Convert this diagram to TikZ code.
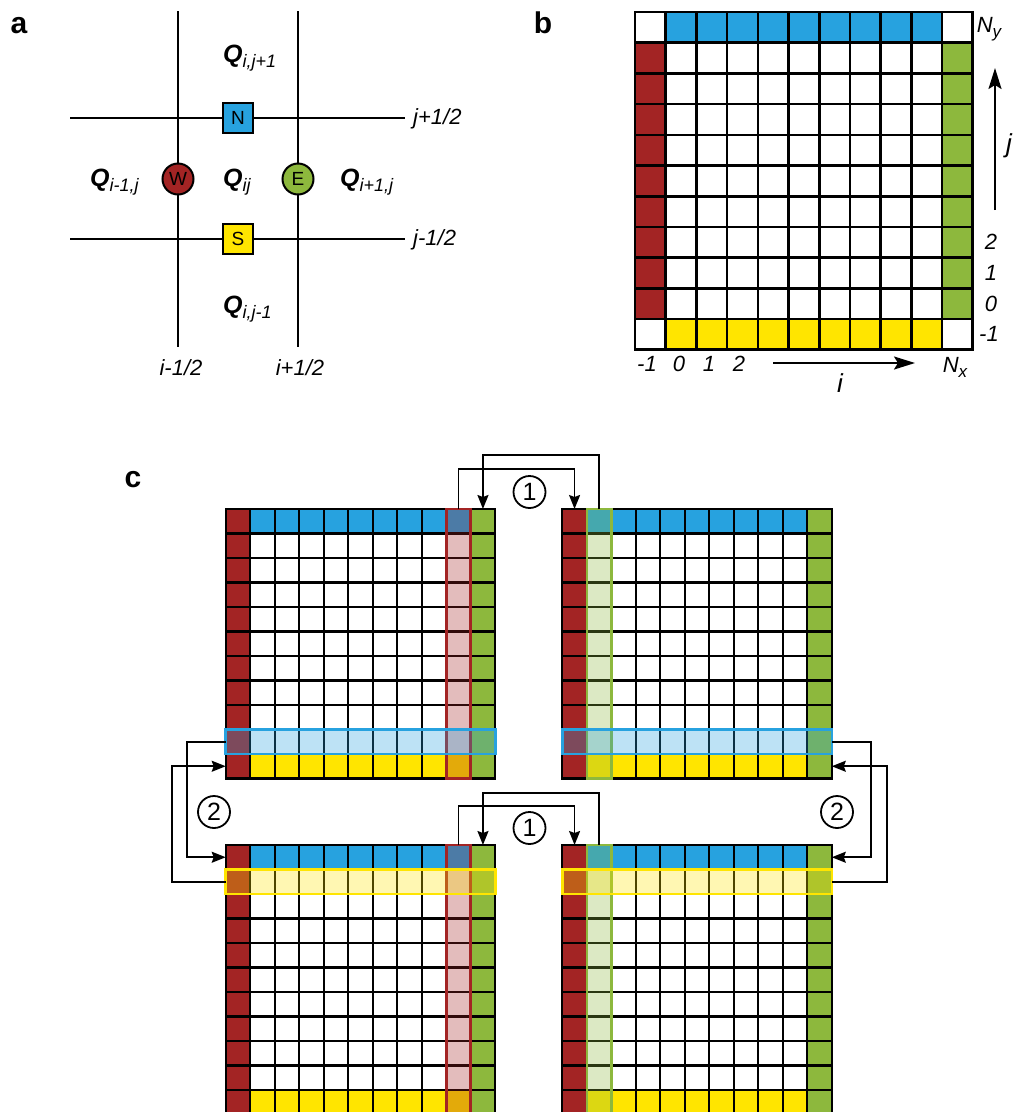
\documentclass[tikz,border=0pt]{standalone}
\usepackage{fontspec}
\setmainfont{Liberation Sans}
\usetikzlibrary{arrows.meta}
\definecolor{cred}{RGB}{163,36,36}
\definecolor{cblue}{RGB}{39,162,223}
\definecolor{cgreen}{RGB}{141,184,61}
\definecolor{cyellow}{RGB}{255,229,0}
\newcommand{\fs}[1]{\fontsize{#1}{#1}\selectfont}
\newcommand{\Qlab}[1]{{\fs{25}\bfseries\itshape Q}\raisebox{-5pt}{\fs{18}\itshape #1}}
\def\cs{24.5}
\def\bs{30.7}
% grid for panel c: x0, y0, column index, column colour, row index, row colour
\newcommand{\cgrid}[6]{%
\begin{scope}[shift={(#1,#2)}]
\fill[white] (0,0) rectangle (11*\cs,11*\cs);
\fill[cred] (0,0) rectangle (\cs,11*\cs);
\fill[cgreen] (10*\cs,0) rectangle (11*\cs,11*\cs);
\fill[cblue] (\cs,0) rectangle (10*\cs,\cs);
\fill[cyellow] (\cs,10*\cs) rectangle (10*\cs,11*\cs);
\foreach \k in {0,...,11}{
  \draw[gline] (\k*\cs,0) -- (\k*\cs,11*\cs);
  \draw[gline] (0,\k*\cs) -- (11*\cs,\k*\cs);}
\fill[#4,opacity=0.3] (#3*\cs,0) rectangle (#3*\cs+\cs,11*\cs);
\draw[#4,line width=2.6pt] (#3*\cs,0) rectangle (#3*\cs+\cs,11*\cs);
\fill[#6,opacity=0.3] (0,#5*\cs) rectangle (11*\cs,#5*\cs+\cs);
\draw[#6,line width=2.6pt] (0,#5*\cs) rectangle (11*\cs,#5*\cs+\cs);
\end{scope}}
\begin{document}
\begin{tikzpicture}[x=1pt,y=-1pt,
  gline/.style={line width=2.2pt,black,line cap=rect},
  bline/.style={line width=2.6pt,black,line cap=rect},
  aline/.style={line width=2.6pt,black},
  conn/.style={line width=1.8pt,line join=miter,-{Stealth[length=14pt,width=11pt,inset=2pt]}},
  barrow/.style={line width=2pt,-{Stealth[length=21pt,width=13pt,inset=4pt]}},
  panel/.style={font=\fs{30}\bfseries,inner sep=0pt,anchor=base},
  lab/.style={font=\fs{22}\itshape,inner sep=0pt},
  qlab/.style={inner sep=0pt,anchor=base west},
  facebox/.style={draw,line width=2pt,minimum size=30pt,inner sep=0pt,font=\fs{19}},
  facecirc/.style={circle,draw,line width=2pt,minimum size=31pt,inner sep=0pt,font=\fs{19}},
  numc/.style={circle,draw,line width=1.8pt,minimum size=32pt,inner sep=0pt,font=\fs{25}}]
\useasboundingbox (0,0) rectangle (1015,1112);

% ---------- panel labels
\node[panel] (pa) at (19,33) {a};
\node[panel] (pb) at (543,33) {b};
\node[panel] (pc) at (133,487) {c};

% ---------- panel a
\coordinate (v1t) at (178,11);  \coordinate (v1b) at (178,347);
\coordinate (v2t) at (298,11);  \coordinate (v2b) at (298,347);
\coordinate (h1l) at (70,118);  \coordinate (h1r) at (405,118);
\coordinate (h2l) at (70,239);  \coordinate (h2r) at (405,239);
\draw[aline] (v1t) -- (v1b);
\draw[aline] (v2t) -- (v2b);
\draw[aline] (h1l) -- (h1r);
\draw[aline] (h2l) -- (h2r);
\node[facebox,fill=cblue] (fN) at (238,118) {N};
\node[facebox,fill=cyellow] (fS) at (238,239) {S};
\node[facecirc,fill=cred] (fW) at (178,179) {W};
\node[facecirc,fill=cgreen] (fE) at (298,179) {E};
\node[qlab] (qN) at (223,62) {\Qlab{i,j+1}};
\node[qlab] (qC) at (223,186) {\Qlab{ij}};
\node[qlab] (qW) at (90,186) {\Qlab{i-1,j}};
\node[qlab] (qE) at (340,186) {\Qlab{i+1,j}};
\node[qlab] (qS) at (223,313) {\Qlab{i,j-1}};
\node[lab,anchor=base west] (ljp) at (413,124) {j+1/2};
\node[lab,anchor=base west] (ljm) at (413,245) {j-1/2};
\node[lab,anchor=base] (lim) at (181,375) {i-1/2};
\node[lab,anchor=base] (lip) at (300,375) {i+1/2};

% ---------- panel b
\begin{scope}[shift={(635,12)}]
\fill[white] (0,0) rectangle (11*\bs,11*\bs);
\fill[cred] (0,\bs) rectangle (\bs,10*\bs);
\fill[cgreen] (10*\bs,\bs) rectangle (11*\bs,10*\bs);
\fill[cblue] (\bs,0) rectangle (10*\bs,\bs);
\fill[cyellow] (\bs,10*\bs) rectangle (10*\bs,11*\bs);
\foreach \k in {0,...,11}{
  \draw[bline] (\k*\bs,0) -- (\k*\bs,11*\bs);
  \draw[bline] (0,\k*\bs) -- (11*\bs,\k*\bs);}
\end{scope}
\node[lab,anchor=base] (bNy) at (989,32) {N\raisebox{-5pt}{\fs{17}y}};
\node[lab] (br2) at (991,242) {2};
\node[lab] (br1) at (991,273) {1};
\node[lab] (br0) at (991,304) {0};
\node[lab] (brm) at (989,334) {-1};
\node[lab] (bcm) at (647,364) {-1};
\node[lab] (bc0) at (679,364) {0};
\node[lab] (bc1) at (709,364) {1};
\node[lab] (bc2) at (739,364) {2};
\node[lab,anchor=base] (bNx) at (955,372) {N\raisebox{-5pt}{\fs{17}x}};
\coordinate (iA) at (773,363); \coordinate (iB) at (915,363);
\draw[barrow] (iA) -- (iB);
\node[lab,font=\fs{26}\itshape] (il) at (840,383) {i};
\coordinate (jA) at (995,210); \coordinate (jB) at (995,68);
\draw[barrow] (jA) -- (jB);
\node[lab,font=\fs{26}\itshape] (jl) at (1009,146) {j};

% ---------- panel c
\cgrid{225.7}{509}{9}{cred}{9}{cblue}
\cgrid{562.3}{509}{1}{cgreen}{9}{cblue}
\cgrid{225.7}{845}{9}{cred}{1}{cyellow}
\cgrid{562.3}{845}{1}{cgreen}{1}{cyellow}

\coordinate (TLtop9) at (458.45,509);  \coordinate (TLtop10) at (482.95,509);
\coordinate (TRtop0) at (574.55,509);  \coordinate (TRtop1) at (599.05,509);
\coordinate (BLtop9) at (458.45,845);  \coordinate (BLtop10) at (482.95,845);
\coordinate (BRtop0) at (574.55,845);  \coordinate (BRtop1) at (599.05,845);
\coordinate (TLw9) at (225.7,741.75);  \coordinate (TLw10) at (225.7,766.25);
\coordinate (BLw0) at (225.7,857.25);  \coordinate (BLw1) at (225.7,881.75);
\coordinate (TRe9) at (831.8,741.75);  \coordinate (TRe10) at (831.8,766.25);
\coordinate (BRe0) at (831.8,857.25);  \coordinate (BRe1) at (831.8,881.75);

\draw[conn] (TLtop9) -- (TLtop9 |- 0,469) -| (TRtop0);
\draw[conn] (TRtop1) -- (TRtop1 |- 0,455) -| (TLtop10);
\draw[conn] (BLtop9) -- (BLtop9 |- 0,806) -| (BRtop0);
\draw[conn] (BRtop1) -- (BRtop1 |- 0,793) -| (BLtop10);
\draw[conn] (TLw9) -- (TLw9 -| 187,0) |- (BLw0);
\draw[conn] (BLw1) -- (BLw1 -| 172,0) |- (TLw10);
\draw[conn] (TRe9) -- (TRe9 -| 871,0) |- (BRe0);
\draw[conn] (BRe1) -- (BRe1 -| 887,0) |- (TRe10);

\node[numc] (n1t) at (529.5,492) {1};
\node[numc] (n1b) at (529.5,828) {1};
\node[numc] (n2l) at (214,812) {2};
\node[numc] (n2r) at (837,812) {2};
\end{tikzpicture}
\end{document}
